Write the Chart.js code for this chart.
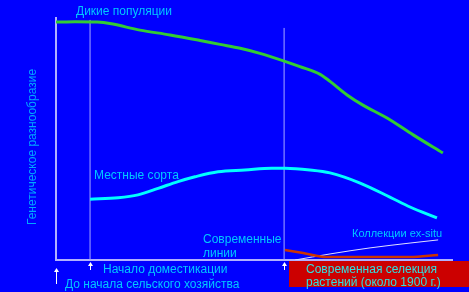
<!DOCTYPE html>
<html>
<head>
<meta charset="utf-8">
<script src="https://cdn.jsdelivr.net/npm/chart.js@4"></script>
<style>
  html, body { margin: 0; padding: 0; background: #0000ff; }
  canvas { display: block; }
</style>
</head>
<body>
<canvas id="chart" width="469" height="292"></canvas>
<script>
// time axis 0..100 (left = before agriculture), diversity axis 0..100
const wildX = [0, 4.8, 10.4, 13.6, 21.2, 28.8, 36.4, 41.4, 46.5, 51.5, 57.6, 61.6, 66.7, 69.2, 73.5, 77.5, 83.6, 90.2, 97.7];
const wildY = [98.3, 98.5, 98.3, 97.7, 95.0, 93.0, 90.7, 89.1, 87.5, 85.4, 82.2, 79.9, 76.7, 73.8, 68.2, 64.0, 58.7, 51.7, 44.2];

const landraceX = [8.6, 15.7, 20.7, 25.8, 30.8, 35.1, 40.9, 47.7, 54.5, 57.8, 64.1, 69.2, 76.8, 84.3, 89.4, 96.2];
const landraceY = [25.1, 25.7, 26.9, 29.6, 32.4, 34.4, 36.5, 37.2, 37.9, 37.9, 37.2, 36.0, 31.8, 26.0, 21.9, 17.4];

const modernX = [57.8, 62.4, 68.4, 79.3, 89.4, 96.5];
const modernY = [4.1, 2.9, 1.2, 1.2, 1.2, 2.1];

const exsituX = [60.4, 69.2, 79.3, 89.4, 96.5];
const exsituY = [0, 2.5, 5.0, 7.0, 8.3];

// domestication start and modern breeding start
const markerX = [8.6, 57.6];
const markerTop = [99.2, 95.9];

const labels = {
  wild: "Дикие популяции",
  landrace: "Местные сорта",
  modern: ["Современные", "линии"],
  exsitu: "Коллекции ex-situ",
  domest: "Начало доместикации",
  preAgri: "До начала сельского хозяйства",
  breeding: ["Современная селекция", "растений (около 1900 г.)"],
  yTitle: "Генетическое разнообразие",
};

function pts(xs, ys) {
  return xs.map((x, i) => ({ x: x, y: ys[i] }));
}

const vlineSets = markerX.map((x, i) => ({
  data: [{ x: x, y: 0 }, { x: x, y: markerTop[i] }],
  borderColor: "#a8a8ff",
  borderWidth: 1,
  pointRadius: 0,
  tension: 0,
}));

function upArrow(ctx, x, y1, y2) {
  ctx.strokeStyle = "#ffffff";
  ctx.fillStyle = "#ffffff";
  ctx.lineWidth = 1;
  ctx.beginPath();
  ctx.moveTo(x + 0.5, y1);
  ctx.lineTo(x + 0.5, y2);
  ctx.stroke();
  ctx.beginPath();
  ctx.moveTo(x + 0.5, y1 - 1);
  ctx.lineTo(x - 2, y1 + 3);
  ctx.lineTo(x + 3, y1 + 3);
  ctx.closePath();
  ctx.fill();
}

const decor = {
  id: "decor",
  afterDraw(chart) {
    const ctx = chart.ctx;
    const xs = chart.scales.x;
    const area = chart.chartArea;
    ctx.save();
    ctx.font = "12px 'Liberation Sans', Arial, sans-serif";
    ctx.textBaseline = "alphabetic";
    ctx.fillStyle = "#00c8ff";
    ctx.textAlign = "center";
    ctx.fillText(labels.wild, 124, 15);
    ctx.textAlign = "left";
    ctx.fillText(labels.landrace, 94, 179);
    ctx.fillText(labels.modern[0], 203, 243);
    ctx.fillText(labels.modern[1], 203, 257);
    ctx.font = "11px 'Liberation Sans', Arial, sans-serif";
    ctx.fillText(labels.exsitu, 352, 237);
    ctx.font = "12px 'Liberation Sans', Arial, sans-serif";
    ctx.fillText(labels.domest, 103, 273);
    ctx.fillText(labels.preAgri, 65, 288);

    // red box
    ctx.fillStyle = "#cc0000";
    ctx.fillRect(289, 261, 180, 26);
    ctx.fillStyle = "#30e0e0";
    ctx.fillText(labels.breeding[0], 306, 273);
    ctx.fillText(labels.breeding[1], 306, 286);

    // arrows
    upArrow(ctx, Math.round(xs.getPixelForValue(0)), 269, 284);
    upArrow(ctx, Math.round(xs.getPixelForValue(markerX[0])), 263, 270);
    upArrow(ctx, Math.round(xs.getPixelForValue(markerX[1])), 263, 270);

    // y title
    ctx.translate(36, (area.top + area.bottom) / 2 + 8);
    ctx.rotate(-Math.PI / 2);
    ctx.textAlign = "center";
    ctx.fillStyle = "#00a8ff";
    ctx.fillText(labels.yTitle, 0, 0);
    ctx.restore();
  },
};

new Chart(document.getElementById("chart"), {
  type: "line",
  data: {
    datasets: [
      { data: pts(wildX, wildY), borderColor: "#33cc33", borderWidth: 3, pointRadius: 0, cubicInterpolationMode: "monotone" },
      { data: pts(landraceX, landraceY), borderColor: "#00ffff", borderWidth: 3, pointRadius: 0, cubicInterpolationMode: "monotone" },
      { data: pts(modernX, modernY), borderColor: "#cc3300", borderWidth: 2.5, pointRadius: 0, cubicInterpolationMode: "monotone" },
      { data: pts(exsituX, exsituY), borderColor: "#e0e0ff", borderWidth: 1, pointRadius: 0, cubicInterpolationMode: "monotone" },
      ...vlineSets,
    ],
  },
  options: {
    responsive: false,
    devicePixelRatio: 1,
    animation: false,
    layout: { padding: { left: 48, top: 18, right: 17, bottom: 24 } },
    plugins: { legend: { display: false }, tooltip: { enabled: false } },
    scales: {
      x: {
        type: "linear",
        min: 0,
        max: 100,
        ticks: { display: false },
        grid: { display: false },
        border: { display: true, color: "#b0b0ff", width: 2 },
      },
      y: {
        min: 0,
        max: 100,
        ticks: { display: false },
        grid: { display: false },
        border: { display: true, color: "#b0b0ff", width: 2 },
      },
    },
  },
  plugins: [decor],
});
</script>
</body>
</html>
